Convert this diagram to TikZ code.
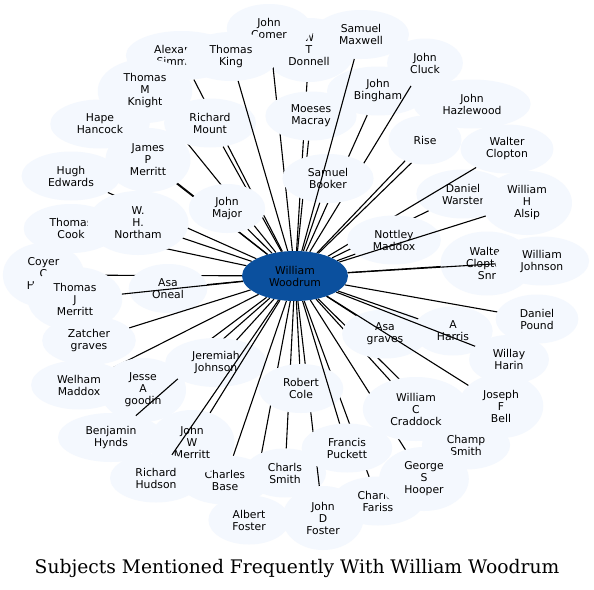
\documentclass[tikz,border=0pt]{standalone}
\usepackage{fontspec}
\usetikzlibrary{shapes.geometric}
\newfontfamily\lab{DejaVu Sans}
\newfontfamily\ttl{DejaVu Serif}
\definecolor{leafblue}{RGB}{244,248,254}
\definecolor{woodblue}{RGB}{11,80,158}
\tikzset{
  leaf/.style={ellipse, fill=leafblue, draw=none, inner xsep=12pt, inner ysep=0pt,
    minimum width=73pt, minimum height=49pt, align=center,
    font=\lab\fontsize{10.8}{12}\selectfont, text=black},
  three/.style={minimum height=64pt},
  edge/.style={line width=1.1pt, black},
  centre/.style={ellipse, inner sep=0pt, minimum width=106pt, minimum height=50pt,
    align=center, font=\lab\fontsize{10.8}{12}\selectfont, text=black}
}
\newcommand\mkleaf[5][]{\node[leaf,#1] (#2) at (#3,#4) {#5};\draw[edge] (c) -- (#2);}
\begin{document}
\begin{tikzpicture}[x=1pt,y=-1pt]
\useasboundingbox[fill=white] (0,0) rectangle (594,589);
\node[centre] (c) at (295,276) {};
\mkleaf{hugh}{71}{176}{Hugh\\Edwards}
\mkleaf{tcook}{71}{228.5}{Thomas\\Cook}
\mkleaf[three]{coyer}{43.5}{275}{Coyer\\C\\H\phantom{ayes}}
\mkleaf{hape}{100}{124}{Hape\\Hancock}
\mkleaf{alex}{181.5}{55.5}{Alexander\\Simmons}
\mkleaf[three]{donnell}{309}{50}{W\\T\\Donnell}
\mkleaf{comer}{269}{28.5}{John\\Comer}
\mkleaf[three]{knight}{145}{91}{Thomas\\M\\Knight}
\mkleaf[three]{jpm}{148}{160}{James\\P\\Merritt}
\mkleaf{mount}{210}{123}{Richard\\Mount}
\mkleaf{king}{231}{56.5}{Thomas\\King}
\mkleaf{moeses}{311}{116}{Moeses\\Macray}
\mkleaf{bingham}{378}{91}{John\\Bingham}
\mkleaf{cluck}{425}{63}{John\\Cluck}
\mkleaf{booker}{328}{178.5}{Samuel\\Booker}
\mkleaf{maxwell}{361}{34.5}{Samuel\\Maxwell}
\mkleaf{hazle}{472}{104}{John\\Hazlewood}
\mkleaf{rise}{425}{140}{Rise}
\mkleaf{warster}{463}{194}{Daniel\\Warster}
\mkleaf{clopton}{507}{149}{Walter\\Clopton}
\mkleaf{nottley}{394}{240}{Nottley\\Maddox}
\mkleaf[three]{alsip}{527}{203}{William\\H\\Alsip}
\mkleaf[three]{snr}{487}{263.5}{Walter\\Clopton\\Snr}
\mkleaf{wjohnson}{542}{261}{William\\Johnson}
\mkleaf{major}{227}{208.5}{John\\Major}
\mkleaf[three]{northam}{138}{223}{W.\\H.\\Northam}
\mkleaf{oneal}{168}{288.5}{Asa\\Oneal}
\mkleaf[three]{tjm}{75}{299}{Thomas\\J\\Merritt}
\mkleaf{zatcher}{89}{340.5}{Zatcher\\graves}
\mkleaf{welham}{79}{385}{Welham\\Maddox}
\mkleaf[three]{jesse}{143}{390}{Jesse\\A\\goodin}
\mkleaf{benjamin}{111}{437.5}{Benjamin\\Hynds}
\mkleaf{jeremiah}{216}{362.5}{Jeremiah\\Johnson}
\mkleaf{albert}{249}{520}{Albert\\Foster}
\mkleaf{base}{225}{480}{Charles\\Base}
\mkleaf[three]{jwm}{192}{442}{John\\W\\Merritt}
\mkleaf{hudson}{156}{478}{Richard\\Hudson}
\mkleaf{charls}{285}{473}{Charls\\Smith}
\mkleaf{fariss}{378}{501}{Charles\\Fariss}
\mkleaf[three]{jdf}{323}{518}{John\\D\\Foster}
\mkleaf{cole}{301}{388.5}{Robert\\Cole}
\mkleaf{puckett}{347}{448}{Francis\\Puckett}
\mkleaf{champ}{466}{445}{Champ\\Smith}
\mkleaf[three]{hooper}{424}{479}{George\\S\\Hooper}
\mkleaf[three]{craddock}{416}{409}{William\\C\\Craddock}
\mkleaf{asag}{385}{334}{Asa\\graves}
\mkleaf{harris}{453}{331}{A\\Harris}
\mkleaf{pound}{537}{319}{Daniel\\Pound}
\mkleaf{harin}{509}{359.5}{Willay\\Harin}
\mkleaf[three]{bell}{501}{406}{Joseph\\F\\Bell}
\node[centre, fill=woodblue] (woodrum) at (295,276) {William\\Woodrum};
\node[font=\ttl\fontsize{18.7}{22}\selectfont, anchor=base, inner sep=0pt] (title) at (297,573) {Subjects Mentioned Frequently With William Woodrum};
\end{tikzpicture}
\end{document}
